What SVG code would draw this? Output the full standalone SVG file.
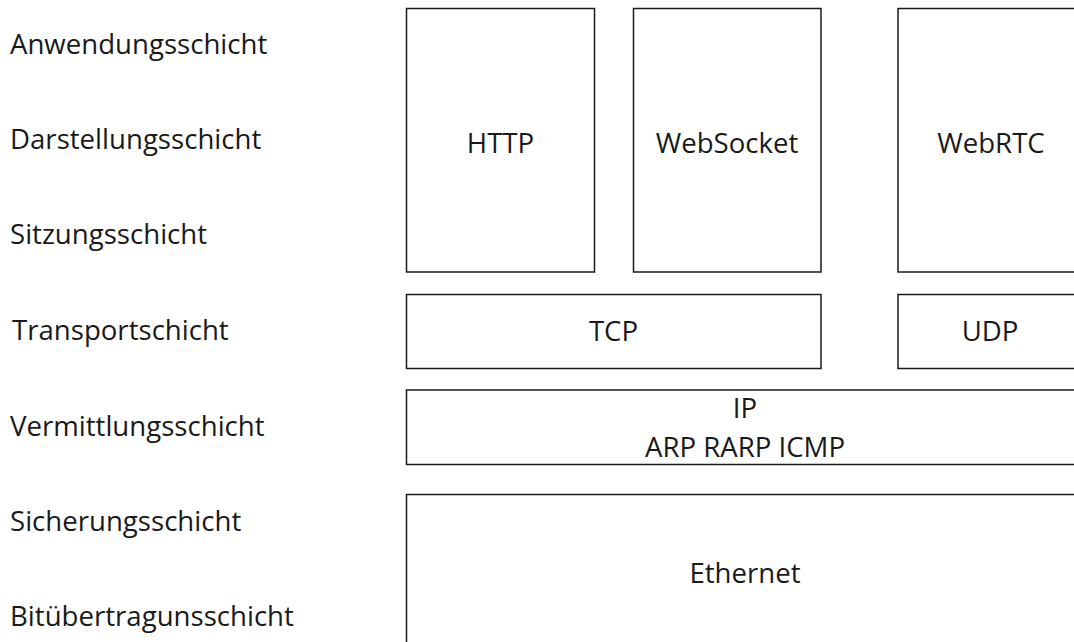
<svg xmlns="http://www.w3.org/2000/svg" width="1074" height="642" viewBox="0 0 1074 642">
  <style>
    .box { fill: #ffffff; stroke: #1a1a1a; stroke-width: 1.5; }
    .lbl { font-family: "Open Sans", "Noto Sans", "Liberation Sans", sans-serif; font-size: 27.6px; fill: #1a1a1a; }
    .mid { text-anchor: middle; }
  </style>
  <rect width="1074" height="642" fill="#ffffff"/>

  <!-- OSI layer names -->
  <g id="layer-names" class="lbl">
    <text x="10" y="54">Anwendungsschicht</text>
    <text x="10" y="149">Darstellungsschicht</text>
    <text x="10" y="244">Sitzungsschicht</text>
    <text x="12" y="340">Transportschicht</text>
    <text x="10" y="436">Vermittlungsschicht</text>
    <text x="10" y="531">Sicherungsschicht</text>
    <text x="10" y="626">Bitübertragunsschicht</text>
  </g>

  <!-- protocol stack -->
  <g id="http">
    <rect class="box" x="406.5" y="8.5" width="188" height="263.5"/>
    <text class="lbl mid" x="500.5" y="153">HTTP</text>
  </g>
  <g id="websocket">
    <rect class="box" x="633.5" y="8.5" width="187.5" height="263.5"/>
    <text class="lbl mid" x="727" y="153">WebSocket</text>
  </g>
  <g id="webrtc">
    <rect class="box" x="898" y="8.5" width="188" height="263.5"/>
    <text class="lbl mid" x="991" y="153">WebRTC</text>
  </g>
  <g id="tcp">
    <rect class="box" x="406.5" y="294.5" width="414.5" height="74"/>
    <text class="lbl mid" x="613.5" y="341">TCP</text>
  </g>
  <g id="udp">
    <rect class="box" x="898" y="294.5" width="188" height="74"/>
    <text class="lbl mid" x="990" y="341">UDP</text>
  </g>
  <g id="ip">
    <rect class="box" x="406.5" y="390" width="679.5" height="74.5"/>
    <text class="lbl mid" x="745" y="418">IP</text>
    <text class="lbl mid" x="745" y="457">ARP RARP ICMP</text>
  </g>
  <g id="ethernet">
    <rect class="box" x="406.5" y="494.5" width="679.5" height="200"/>
    <text class="lbl mid" x="745" y="583">Ethernet</text>
  </g>

  <g id="connectors"/>
</svg>
